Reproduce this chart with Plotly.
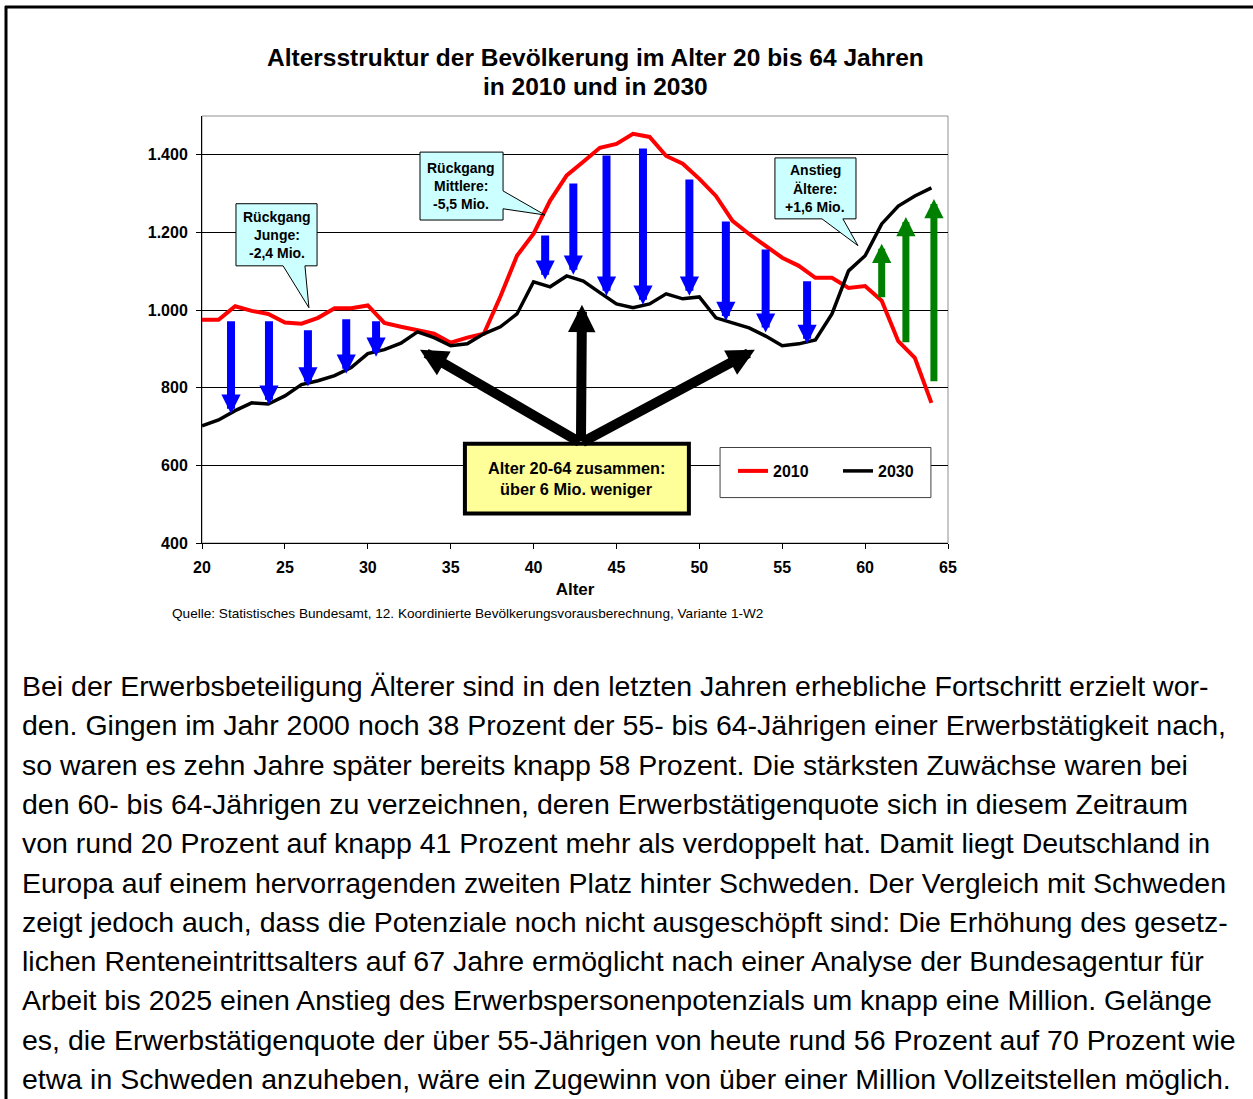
import plotly.graph_objects as go

# ---------------- data ----------------
ages = list(range(20, 65))
pop_2010 = [975, 975, 1010, 998, 990, 968, 965, 980, 1005, 1005, 1012, 967, 957, 947, 939,
            916, 929, 939, 1035, 1140, 1197, 1282, 1347, 1382, 1418, 1428, 1454, 1446, 1397,
            1377, 1338, 1294, 1230, 1196, 1165, 1135, 1114, 1083, 1083, 1057, 1062, 1024,
            920, 877, 761]
pop_2030 = [702, 717, 741, 761, 758, 779, 808, 818, 831, 852, 888, 898, 915, 944, 929,
            908, 913, 939, 957, 990, 1073, 1060, 1088, 1075, 1045, 1016, 1006, 1016, 1042,
            1029, 1034, 980, 967, 954, 933, 908, 913, 923, 990, 1101, 1140, 1222, 1268,
            1294, 1315]

# decline arrows (blue): age, from, to
down_x = [21.75, 24.04, 26.39, 28.7, 30.5, 40.7, 42.4, 44.4, 46.6, 49.4, 51.6, 54.0, 56.5]
down_from = [975, 975, 952, 980, 975, 1196, 1330, 1402, 1420, 1340, 1232, 1160, 1078]
down_to = [733, 756, 803, 836, 880, 1078, 1091, 1037, 1014, 1037, 972, 942, 913]
# increase arrows (green)
up_x = [61.0, 62.46, 64.15]
up_from = [1029, 913, 813]
up_to = [1171, 1240, 1286]
# summary arrows (black) from the yellow box
sum_origin = (42.86, 658)
sum_tips_x = [33.15, 42.92, 53.35]
sum_tips_y = [898, 1014, 898]

x_ticks = [20, 25, 30, 35, 40, 45, 50, 55, 60, 65]
y_ticks = [400, 600, 800, 1000, 1200, 1400]
y_tick_text = ["400", "600", "800", "1.000", "1.200", "1.400"]

title_lines = ["Altersstruktur der Bevölkerung im Alter 20 bis 64 Jahren", "in 2010 und in 2030"]
source_text = "Quelle: Statistisches Bundesamt, 12. Koordinierte Bevölkerungsvorausberechnung, Variante 1-W2"
body_lines = [
    "Bei der Erwerbsbeteiligung Älterer sind in den letzten Jahren erhebliche Fortschritt erzielt wor-",
    "den. Gingen im Jahr 2000 noch 38 Prozent der 55- bis 64-Jährigen einer Erwerbstätigkeit nach,",
    "so waren es zehn Jahre später bereits knapp 58 Prozent. Die stärksten Zuwächse waren bei",
    "den 60- bis 64-Jährigen zu verzeichnen, deren Erwerbstätigenquote sich in diesem Zeitraum",
    "von rund 20 Prozent auf knapp 41 Prozent mehr als verdoppelt hat. Damit liegt Deutschland in",
    "Europa auf einem hervorragenden zweiten Platz hinter Schweden. Der Vergleich mit Schweden",
    "zeigt jedoch auch, dass die Potenziale noch nicht ausgeschöpft sind: Die Erhöhung des gesetz-",
    "lichen Renteneintrittsalters auf 67 Jahre ermöglicht nach einer Analyse der Bundesagentur für",
    "Arbeit bis 2025 einen Anstieg des Erwerbspersonenpotenzials um knapp eine Million. Gelänge",
    "es, die Erwerbstätigenquote der über 55-Jährigen von heute rund 56 Prozent auf 70 Prozent wie",
    "etwa in Schweden anzuheben, wäre ein Zugewinn von über einer Million Vollzeitstellen möglich.",
]

# ---------------- layout helpers ----------------
W, H = 1253, 1099
PL, PR, PT, PB = 202, 948, 116, 543
FONT = "Liberation Sans, Arial, sans-serif"


def px(x):
    return (x - PL) / (PR - PL)


def py(y):
    return (PB - y) / (PB - PT)


fig = go.Figure()
fig.add_trace(go.Scatter(x=ages, y=pop_2010, name="2010", mode="lines",
                         line=dict(color="#FF0000", width=4)))
fig.add_trace(go.Scatter(x=ages, y=pop_2030, name="2030", mode="lines",
                         line=dict(color="#000000", width=3.5)))

annotations = []
shapes = []

# outer frame
shapes.append(dict(type="line", xref="paper", yref="paper", x0=px(6), x1=px(6), y0=py(6), y1=py(W),
                   line=dict(color="black", width=3)))
shapes.append(dict(type="line", xref="paper", yref="paper", x0=px(5), x1=px(1260), y0=py(7), y1=py(7),
                   line=dict(color="black", width=3)))
# plot frame (grey top/right)
shapes.append(dict(type="rect", xref="paper", yref="paper", x0=0, x1=1, y0=0, y1=1,
                   line=dict(color="#909090", width=1), layer="below"))

# title
for i, t in enumerate(title_lines):
    annotations.append(dict(xref="paper", yref="paper", x=px(595), y=py(57 + 30 * i), text="<b>%s</b>" % t,
                            showarrow=False, xanchor="center", yanchor="middle",
                            font=dict(family=FONT, size=24.5, color="black")))

# source
annotations.append(dict(xref="paper", yref="paper", x=px(170), y=py(613), text=source_text, showarrow=False,
                        xanchor="left", yanchor="middle", font=dict(family=FONT, size=13.6, color="black")))

# body text
for i, t in enumerate(body_lines):
    annotations.append(dict(xref="paper", yref="paper", x=px(20), y=py(686 + 39.3 * i), text=t,
                            showarrow=False, xanchor="left", yanchor="middle",
                            font=dict(family=FONT, size=28.5, color="black")))

# arrows
for x, a, b in zip(down_x, down_from, down_to):
    annotations.append(dict(x=x, y=b, ax=x, ay=a, xref="x", yref="y", axref="x", ayref="y", text="",
                            showarrow=True, arrowhead=2, arrowsize=0.48, arrowwidth=8,
                            arrowcolor="#0000FF", standoff=0))
for x, a, b in zip(up_x, up_from, up_to):
    annotations.append(dict(x=x, y=b, ax=x, ay=a, xref="x", yref="y", axref="x", ayref="y", text="",
                            showarrow=True, arrowhead=2, arrowsize=0.55, arrowwidth=7,
                            arrowcolor="#008000", standoff=0))
for tx, ty in zip(sum_tips_x, sum_tips_y):
    annotations.append(dict(x=tx, y=ty, ax=sum_origin[0], ay=sum_origin[1], xref="x", yref="y",
                            axref="x", ayref="y", text="", showarrow=True, arrowhead=2, arrowsize=0.55,
                            arrowwidth=10, arrowcolor="#000000", standoff=0))

# callouts (speech bubbles)
callouts = [
    ([(22.05, 1274), (26.94, 1274), (26.94, 1114), (26.21, 1114), (26.45, 1006), (24.89, 1114),
      (22.05, 1114)], ["Rückgang", "Junge:", "-2,4 Mio."], (24.5, 1194)),
    ([(33.15, 1407), (38.16, 1407), (38.16, 1307), (40.69, 1245), (38.16, 1261), (38.16, 1232),
      (33.15, 1232)], ["Rückgang", "Mittlere:", "-5,5 Mio."], (35.65, 1320)),
    ([(54.56, 1392), (59.45, 1392), (59.45, 1235), (58.66, 1235), (59.57, 1166), (57.4, 1235),
      (54.56, 1235)], ["Anstieg", "Ältere:", "+1,6 Mio."], (57.0, 1313)),
]
for poly, lines, (cx, cy) in callouts:
    path = "M " + " L ".join("%g,%g" % p for p in poly) + " Z"
    shapes.append(dict(type="path", xref="x", yref="y", path=path, fillcolor="#CCFFFF",
                       line=dict(color="black", width=1), layer="above"))
    for i, t in enumerate(lines):
        annotations.append(dict(x=cx, y=cy + (1 - i) * 47, xref="x", yref="y", text="<b>%s</b>" % t,
                                showarrow=False, xanchor="center", yanchor="middle",
                                font=dict(family=FONT, size=14, color="black")))

# yellow summary box
shapes.append(dict(type="rect", xref="x", yref="y", x0=35.86, x1=49.37, y0=476, y1=656,
                   fillcolor="#FFFF99", line=dict(color="black", width=4), layer="above"))
for i, t in enumerate(["Alter 20-64 zusammen:", "über 6 Mio. weniger"]):
    annotations.append(dict(x=42.6, y=594 - i * 54, xref="x", yref="y", text="<b>%s</b>" % t,
                            showarrow=False, xanchor="center", yanchor="middle",
                            font=dict(family=FONT, size=16.3, color="black")))

# legend box
shapes.append(dict(type="rect", xref="x", yref="y", x0=51.25, x1=63.97, y0=517, y1=646,
                   fillcolor="white", line=dict(color="#404040", width=1), layer="above"))

fig.update_layout(
    width=W, height=H, autosize=False,
    margin=dict(l=PL, r=W - PR, t=PT, b=H - PB, pad=0),
    paper_bgcolor="white", plot_bgcolor="white",
    font=dict(family=FONT, color="black"),
    showlegend=True,
    legend=dict(orientation="h", x=px(733), y=py(471), xanchor="left", yanchor="middle",
                bgcolor="rgba(0,0,0,0)", borderwidth=0, entrywidth=60, entrywidthmode="pixels",
                font=dict(family=FONT, size=16, color="black", weight="bold"), itemwidth=30),
    xaxis=dict(range=[20, 65], tickvals=x_ticks, ticktext=[str(v) for v in x_ticks],
               showgrid=False, zeroline=False, showline=True, linecolor="black", linewidth=1,
               ticks="outside", ticklen=5, tickcolor="black", ticklabelstandoff=5,
               tickfont=dict(family=FONT, size=16, color="black", weight="bold"),
               title=dict(text="<b>Alter</b>", font=dict(family=FONT, size=17, color="black"), standoff=7)),
    yaxis=dict(range=[400, 1500], tickvals=y_ticks, ticktext=y_tick_text,
               showgrid=True, gridcolor="#000000", gridwidth=1, zeroline=False,
               showline=True, linecolor="black", linewidth=1,
               ticks="outside", ticklen=5, tickcolor="black", ticklabelstandoff=5,
               tickfont=dict(family=FONT, size=16, color="black", weight="bold")),
    annotations=annotations,
    shapes=shapes,
)

fig.write_html("out.html", config={"displayModeBar": False},
               post_script="document.body.style.margin='0';")
